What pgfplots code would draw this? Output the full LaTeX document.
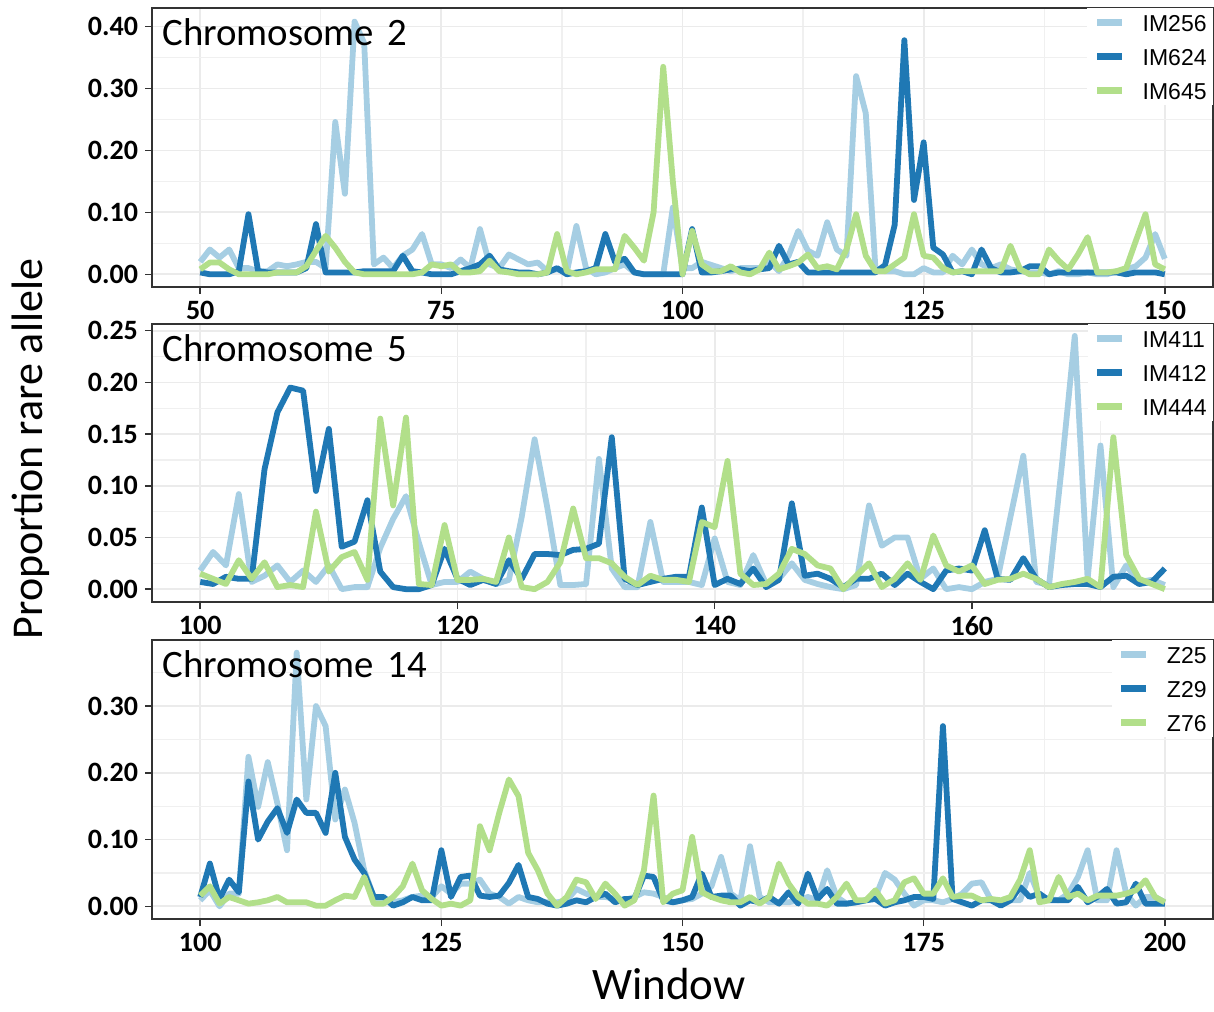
\documentclass[border=0pt]{standalone}
\usepackage{pgfplots}
\pgfplotsset{compat=1.18}
\usepackage{pgfplotstable}
\usepackage{fontspec}
\setmainfont{Carlito}
\newfontfamily\legfont{Liberation Sans}
\definecolor{lb}{HTML}{A6CEE3}
\definecolor{db}{HTML}{1F78B4}
\definecolor{lg}{HTML}{B2DF8A}

\pgfplotstableread{
w a b c
50 0.02 0.003 0.008
51 0.04 0 0.019
52 0.027 0 0.019
53 0.04 0 0.008
54 0.01 0.005 0
55 0.01 0.097 0
56 0.005 0.005 0
57 0.005 0.003 0
58 0.016 0.003 0.003
59 0.013 0.003 0.003
60 0.016 0.003 0.003
61 0.02 0.01 0.013
62 0.02 0.081 0.038
63 0.01 0.003 0.062
64 0.246 0.003 0.043
65 0.13 0.003 0.02
66 0.408 0.003 0.003
67 0.373 0.005 0
68 0.016 0.005 0
69 0.027 0.005 0
70 0.01 0.005 0
71 0.03 0.03 0
72 0.04 0.005 0
73 0.065 0.003 0.003
74 0.016 0 0.016
75 0.016 0 0.013
76 0.01 0 0.016
77 0.024 0.005 0.003
78 0.01 0.01 0.003
79 0.073 0.016 0.005
80 0.016 0.03 0.022
81 0.01 0.008 0.005
82 0.032 0.005 0.003
83 0.024 0.003 0
84 0.016 0.003 0
85 0.019 0 0
86 0.005 0.003 0.003
87 0.008 0.01 0.065
88 0.003 0 0.005
89 0.078 0.003 0
90 0.01 0.005 0.003
91 0 0.01 0.008
92 0.003 0.065 0.008
93 0.01 0.02 0.008
94 0.016 0.025 0.062
95 0.003 0.003 0.043
96 0 0 0.022
97 0 0 0.10
98 0 0 0.335
99 0.108 0 0.15
100 0.01 0 0
101 0.01 0.073 0.07
102 0.02 0.003 0.016
103 0.015 0.003 0.005
104 0.01 0.005 0.005
105 0.005 0.008 0.013
106 0.01 0.008 0.003
107 0.01 0.005 0
108 0.01 0.008 0.008
109 0.02 0.01 0.035
110 0.005 0.046 0.008
111 0.03 0.016 0.013
112 0.07 0.02 0.019
113 0.038 0.003 0.032
114 0.03 0.003 0.01
115 0.084 0.003 0.013
116 0.04 0.003 0.008
117 0.03 0.003 0.04
118 0.32 0.003 0.097
119 0.26 0.003 0.03
120 0.01 0.003 0.005
121 0.005 0.015 0.005
122 0.005 0.08 0.016
123 0 0.378 0.027
124 0 0.12 0.097
125 0.01 0.213 0.03
126 0.003 0.043 0.027
127 0.003 0.032 0.01
128 0.03 0.003 0.003
129 0.016 0.005 0.005
130 0.04 0 0.005
131 0.016 0.04 0.005
132 0.01 0.01 0.005
133 0.016 0.003 0.005
134 0.008 0.003 0.046
135 0.005 0.005 0.008
136 0.003 0.013 0
137 0.003 0.013 0
138 0 0 0.04
139 0.005 0.003 0.022
140 0 0.003 0.008
141 0 0.003 0.032
142 0.003 0.003 0.06
143 0 0.003 0.003
144 0 0.003 0.003
145 0.005 0.003 0.005
146 0.008 0 0.01
147 0.013 0.003 0.054
148 0.027 0.003 0.097
149 0.065 0.003 0.016
150 0.025 0 0.008
}\chrA

\pgfplotstableread{
w a b c
100 0.018 0.007 0.015
101 0.036 0.005 0.01
102 0.023 0.012 0.005
103 0.092 0.01 0.028
104 0.007 0.01 0.01
105 0.013 0.116 0.026
106 0.023 0.171 0.002
107 0.007 0.195 0.004
108 0.018 0.192 0.002
109 0.007 0.095 0.075
110 0.023 0.155 0.017
111 0.0 0.041 0.031
112 0.002 0.046 0.036
113 0.002 0.086 0.009
114 0.04 0.017 0.165
115 0.068 0.002 0.081
116 0.09 0.0 0.166
117 0.045 0.0 0.005
118 0.004 0.004 0.004
119 0.007 0.039 0.062
120 0.007 0.01 0.009
121 0.017 0.004 0.009
122 0.01 0.009 0.01
123 0.005 0.005 0.007
124 0.009 0.028 0.05
125 0.07 0.01 0.002
126 0.145 0.034 0.0
127 0.078 0.034 0.007
128 0.004 0.033 0.026
129 0.004 0.038 0.078
130 0.005 0.039 0.03
131 0.126 0.044 0.03
132 0.02 0.147 0.025
133 0.002 0.01 0.012
134 0.002 0.004 0.004
135 0.065 0.007 0.013
136 0.007 0.01 0.009
137 0.007 0.012 0.009
138 0.007 0.012 0.007
139 0.004 0.079 0.065
140 0.049 0.004 0.06
141 0.007 0.01 0.124
142 0.004 0.005 0.015
143 0.033 0.02 0.004
144 0.005 0.002 0.005
145 0.01 0.009 0.015
146 0.025 0.083 0.039
147 0.009 0.013 0.034
148 0.005 0.015 0.023
149 0.002 0.01 0.02
150 0.0 0.002 0.0
151 0.004 0.01 0.013
152 0.081 0.01 0.025
153 0.042 0.015 0.002
154 0.05 0.004 0.01
155 0.05 0.015 0.025
156 0.01 0.007 0.009
157 0.02 0.0 0.052
158 0.0 0.018 0.023
159 0.002 0.02 0.017
160 0.0 0.018 0.023
161 0.007 0.057 0.005
162 0.01 0.01 0.009
163 0.07 0.009 0.01
164 0.129 0.03 0.015
165 0.007 0.01 0.01
166 0.004 0.002 0.002
167 0.12 0.004 0.005
168 0.245 0.005 0.007
169 0.01 0.005 0.01
170 0.139 0.002 0.002
171 0.002 0.012 0.147
172 0.023 0.013 0.033
173 0.007 0.005 0.01
174 0.009 0.007 0.005
175 0.004 0.02 0.0
}\chrB

\pgfplotstableread{
w a b c
100 0.009 0.014 0.016
101 0.024 0.064 0.03
102 0.0 0.011 0.004
103 0.019 0.04 0.014
104 0.019 0.021 0.009
105 0.224 0.187 0.004
106 0.149 0.10 0.006
107 0.216 0.127 0.009
108 0.154 0.147 0.014
109 0.084 0.11 0.006
110 0.38 0.16 0.006
111 0.16 0.14 0.006
112 0.30 0.14 0.001
113 0.27 0.11 0.001
114 0.13 0.2 0.009
115 0.175 0.104 0.016
116 0.125 0.07 0.014
117 0.054 0.05 0.044
118 0.014 0.014 0.004
119 0.009 0.014 0.004
120 0.006 0.001 0.014
121 0.009 0.006 0.03
122 0.014 0.014 0.064
123 0.016 0.009 0.024
124 0.014 0.009 0.011
125 0.03 0.084 0.001
126 0.019 0.014 0.004
127 0.034 0.044 0.001
128 0.034 0.046 0.009
129 0.04 0.016 0.12
130 0.019 0.014 0.084
131 0.014 0.016 0.14
132 0.004 0.035 0.19
133 0.014 0.062 0.165
134 0.009 0.014 0.08
135 0.006 0.011 0.054
136 0.006 0.004 0.019
137 0.006 0.001 0.001
138 0.009 0.004 0.014
139 0.026 0.009 0.04
140 0.019 0.006 0.036
141 0.014 0.014 0.011
142 0.014 0.019 0.034
143 0.011 0.006 0.019
144 0.009 0.011 0.001
145 0.014 0.011 0.009
146 0.021 0.046 0.054
147 0.019 0.044 0.166
148 0.014 0.009 0.006
149 0.006 0.006 0.019
150 0.009 0.009 0.024
151 0.011 0.014 0.104
152 0.019 0.049 0.021
153 0.03 0.014 0.014
154 0.074 0.016 0.009
155 0.019 0.016 0.006
156 0.009 0.001 0.006
157 0.09 0.009 0.014
158 0.014 0.006 0.004
159 0.006 0.014 0.014
160 0.006 0.004 0.064
161 0.006 0.021 0.034
162 0.009 0.004 0.014
163 0.014 0.049 0.004
164 0.009 0.011 0.004
165 0.054 0.026 0.001
166 0.014 0.004 0.014
167 0.004 0.004 0.034
168 0.006 0.006 0.009
169 0.009 0.009 0.009
170 0.014 0.011 0.024
171 0.05 0.001 0.004
172 0.04 0.006 0.009
173 0.019 0.009 0.036
174 0.001 0.014 0.042
175 0.009 0.014 0.019
176 0.009 0.011 0.019
177 0.006 0.27 0.042
178 0.011 0.011 0.014
179 0.019 0.006 0.016
180 0.034 0.001 0.016
181 0.036 0.009 0.009
182 0.009 0.009 0.011
183 0.006 0.001 0.009
184 0.009 0.009 0.014
185 0.009 0.029 0.04
186 0.05 0.014 0.084
187 0.014 0.019 0.006
188 0.011 0.009 0.009
189 0.009 0.009 0.044
190 0.019 0.009 0.014
191 0.044 0.029 0.019
192 0.084 0.006 0.009
193 0.009 0.014 0.016
194 0.009 0.026 0.016
195 0.084 0.004 0.016
196 0.019 0.006 0.019
197 0.001 0.034 0.024
198 0.014 0.004 0.039
199 0.014 0.004 0.014
200 0.006 0.004 0.006
}\chrC

\pgfplotsset{
  panel/.style={
    scale only axis, width=530.5pt, height=139.5pt, anchor=south west,
    axis line style={black!80, line width=0.75pt},
    tick align=outside, major tick length=3.5pt, minor tick length=0pt,
    tick style={black!80, line width=0.75pt},
    xtick pos=bottom, ytick pos=left,
    grid=both,
    major grid style={black!8, line width=0.9pt},
    minor grid style={black!6, line width=0.6pt},
    ticklabel style={font=\bfseries\fontsize{14}{14}\selectfont},
    legend cell align=left,
    legend style={at={(rel axis cs:1,1)}, anchor=north east, draw=none, fill=white,
      inner xsep=3pt, inner ysep=3pt,
      font=\legfont\fontsize{11.5}{12}\selectfont,
      nodes={inner sep=0pt, text height=8.5pt, text depth=0pt},
      row sep=8.5pt,
      /tikz/every odd column/.append style={column sep=8.5pt}},
    legend image code/.code={\draw[#1, line width=3.6pt, line cap=butt] (0pt,0pt) -- (12.5pt,0pt);},
    every axis plot/.append style={line width=2.9pt, line join=round, no markers},
  }
}

\begin{document}
\begin{tikzpicture}
\path[use as bounding box] (0,0) rectangle (607pt,505.5pt);

\begin{axis}[panel, at={(76pt,362pt)},
  xmin=45, xmax=155, ymin=-0.0205, ymax=0.43,
  xtick={50,75,100,125,150}, xticklabels={50,75,100,125,150},
  minor xtick={62.5,87.5,112.5,137.5},
  ytick={0,0.1,0.2,0.3,0.4}, yticklabels={0.00,0.10,0.20,0.30,0.40},
  minor ytick={0.05,0.15,0.25,0.35}]
\addplot[lb] table[x=w,y=a] {\chrA};
\addplot[db] table[x=w,y=b] {\chrA};
\addplot[lg] table[x=w,y=c] {\chrA};
\legend{IM256,IM624,IM645}
\node[anchor=north west, inner sep=0pt, font=\fontsize{19.4}{20}\selectfont] at (rel axis cs:0,1) [xshift=5pt, yshift=-5pt] {Chromosome\hspace{0.35em}2};
\end{axis}

\begin{axis}[panel, at={(76pt,204.5pt)}, height=139pt,
  xmin=96.25, xmax=178.75, ymin=-0.0124, ymax=0.2565,
  xtick={100,120,140,160}, xticklabels={100,120,140,160},
  minor xtick={110,130,150,170},
  ytick={0,0.05,0.1,0.15,0.2,0.25}, yticklabels={0.00,0.05,0.10,0.15,0.20,0.25},
  minor ytick={0.025,0.075,0.125,0.175,0.225}]
\addplot[lb] table[x=w,y=a] {\chrB};
\addplot[db] table[x=w,y=b] {\chrB};
\addplot[lg] table[x=w,y=c] {\chrB};
\legend{IM411,IM412,IM444}
\node[anchor=north west, inner sep=0pt, font=\fontsize{19.4}{20}\selectfont] at (rel axis cs:0,1) [xshift=5pt, yshift=-5pt] {Chromosome\hspace{0.35em}5};
\end{axis}

\begin{axis}[panel, at={(76pt,46pt)},
  xmin=95, xmax=205, ymin=-0.019, ymax=0.399,
  xtick={100,125,150,175,200}, xticklabels={100,125,150,175,200},
  minor xtick={112.5,137.5,162.5,187.5},
  ytick={0,0.1,0.2,0.3}, yticklabels={0.00,0.10,0.20,0.30},
  minor ytick={0.05,0.15,0.25,0.35}]
\addplot[lb] table[x=w,y=a] {\chrC};
\addplot[db] table[x=w,y=b] {\chrC};
\addplot[lg] table[x=w,y=c] {\chrC};
\legend{Z25,Z29,Z76}
\node[anchor=north west, inner sep=0pt, font=\fontsize{19.4}{20}\selectfont] at (rel axis cs:0,1) [xshift=5pt, yshift=-5pt] {Chromosome\hspace{0.35em}14};
\end{axis}

\node[rotate=90, anchor=base, inner sep=0pt, font=\fontsize{22}{22}\selectfont] at (21.5pt,281pt) {Proportion rare allele};
\node[anchor=base, inner sep=0pt, font=\fontsize{22.5}{22.5}\selectfont] at (334.5pt,5.5pt) {Window};
\end{tikzpicture}
\end{document}
